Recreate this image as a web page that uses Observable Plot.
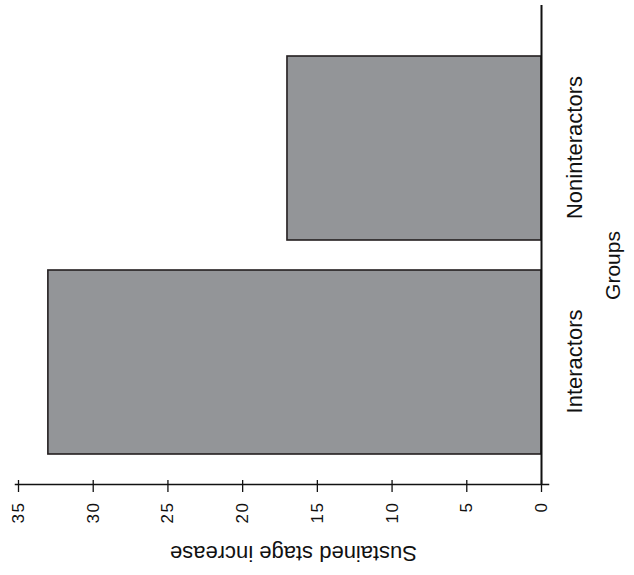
<!DOCTYPE html>
<html>
<head>
<meta charset="utf-8">
<script src="https://cdn.jsdelivr.net/npm/d3@7"></script>
<script src="https://cdn.jsdelivr.net/npm/@observablehq/plot@0.6"></script>
<style>
  html, body { margin: 0; padding: 0; background: #fff; }
  #chart { position: relative; width: 634px; height: 575px; overflow: hidden; }
  #chart svg {
    position: absolute; left: 0; top: 0;
    transform-origin: 0 0;
    transform: translate(0px, 575px) rotate(-90deg);
    font-family: "Liberation Sans", Arial, Helvetica, sans-serif;
  }
  #chart svg [aria-label="y-axis tick label"] text { letter-spacing: 1.5px; }
</style>
</head>
<body>
<div id="chart"></div>
<script>
const groups = ["Interactors", "Noninteractors"];
const values = [33, 17];
const yTicks = [0, 5, 10, 15, 20, 25, 30, 35];
const yTitle = "Sustained stage increase";
const xTitle = "Groups";

const data = groups.map((g, i) => ({group: g, value: values[i]}));

const plot = Plot.plot({
  width: 575,
  height: 634,
  marginLeft: 90,
  marginRight: 5,
  marginTop: 18,
  marginBottom: 93,
  style: {background: "#fff", fontFamily: "Liberation Sans, Arial, Helvetica, sans-serif", color: "#111"},
  x: {domain: groups, range: [106, 534], paddingInner: 0.14, paddingOuter: 0.07, label: null},
  y: {domain: [0, 35], label: null},
  marks: [
    Plot.barY(data, {x: "group", y: "value", fill: "#939598", stroke: "#231f20", strokeWidth: 1.6}),
    Plot.ruleY([0], {stroke: "#111", strokeWidth: 2}),
    Plot.frame({anchor: "left", stroke: "#111", strokeWidth: 1.5, insetBottom: -7, insetTop: -3}),
    Plot.axisY({ticks: yTicks, tickSize: 12, dx: 5, tickFormat: () => "", label: null, stroke: "#111", strokeWidth: 1.3}),
    Plot.axisY({ticks: yTicks, tickSize: 0, tickPadding: 17, fontSize: 17, label: null, fill: "#111"}),
    Plot.axisX({tickSize: 0, tickPadding: 25, fontSize: 22, label: null, fill: "#111"}),
    Plot.text([xTitle], {frameAnchor: "bottom", dx: -21, dy: 72, lineAnchor: "middle", textAnchor: "middle", fontSize: 21, fill: "#111"}),
    Plot.text([yTitle], {frameAnchor: "left", rotate: -90, dx: -69, dy: 13.5, lineAnchor: "middle", textAnchor: "middle", fontSize: 22, fill: "#111"})
  ]
});

document.getElementById("chart").appendChild(plot);
</script>
</body>
</html>
